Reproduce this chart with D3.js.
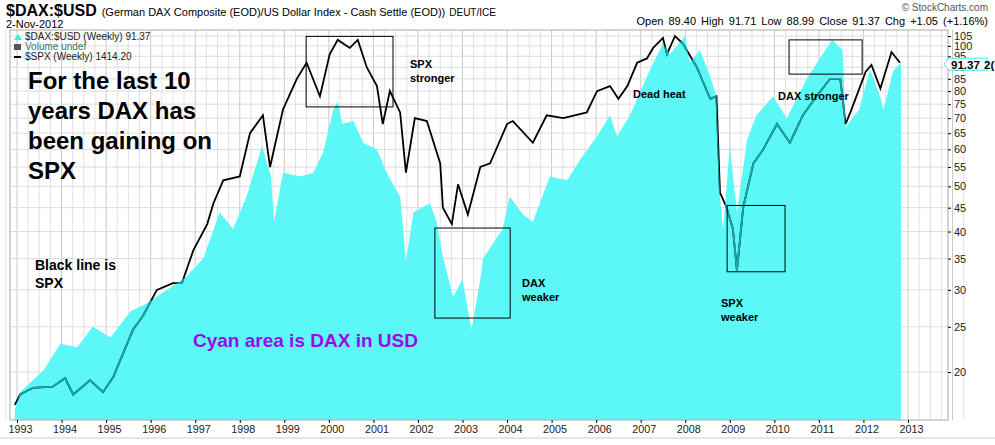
<!DOCTYPE html>
<html>
<head>
<meta charset="utf-8">
<script src="https://cdn.jsdelivr.net/npm/d3@7"></script>
<style>
  body { margin: 0; background: #fff; overflow: hidden; }
  text { font-family: "Liberation Sans", Arial, sans-serif; }
</style>
</head>
<body>
<svg id="chart"></svg>
<script>
// DAX in USD (cyan area), [year, value]
const daxSeries = [
  [1992.95, 16.6], [1993.07, 18.1], [1993.6, 20.2], [1993.97, 23], [1994.35, 22.6], [1994.7, 25],
  [1995.1, 23.7], [1995.55, 27], [1995.9, 28], [1996.37, 30], [1996.8, 32], [1997.18, 35],
  [1997.55, 44], [1997.85, 40.5], [1998.15, 47.5], [1998.5, 61], [1998.7, 52.5], [1998.77, 42],
  [1998.97, 53.5], [1999.35, 52.5], [1999.65, 53.5], [1999.87, 59], [2000.1, 73], [2000.2, 76],
  [2000.3, 68], [2000.55, 69], [2000.77, 62], [2001.08, 60], [2001.3, 53.5], [2001.6, 47.5],
  [2001.73, 34.5], [2001.9, 44], [2002.27, 46], [2002.42, 42], [2002.56, 35.3], [2002.79, 29],
  [2003.0, 31.6], [2003.2, 24.6], [2003.4, 31.6], [2003.46, 35], [2003.9, 40.5], [2004.06, 47.5],
  [2004.36, 43.5], [2004.58, 42], [2004.96, 52.5], [2005.35, 51.5], [2005.64, 57], [2006.02, 64],
  [2006.31, 71], [2006.47, 64], [2006.76, 71], [2007.21, 89], [2007.5, 101], [2007.66, 96],
  [2008.0, 105], [2008.1, 92], [2008.33, 98], [2008.56, 86], [2008.7, 78], [2008.78, 47.5],
  [2008.85, 40.5], [2009.0, 61], [2009.16, 44], [2009.39, 63], [2009.6, 71], [2009.97, 78],
  [2010.28, 70], [2010.73, 85], [2011.02, 94], [2011.3, 103], [2011.53, 98], [2011.6, 67],
  [2011.9, 73], [2012.15, 89], [2012.37, 78], [2012.45, 73], [2012.66, 88], [2012.84, 92]
];

// SPX overlay (black line), rescaled to the chart axis, [year, value]
const spxSeries = [
  [1992.95, 17], [1993.07, 17.9], [1993.36, 18.5], [1993.8, 18.6], [1994.08, 19.4], [1994.26, 17.9],
  [1994.64, 19.2], [1994.93, 18.1], [1995.16, 19.5], [1995.6, 24.6], [1995.83, 26.4], [1996.14, 30],
  [1996.5, 31], [1996.7, 31], [1996.96, 36.5], [1997.27, 41.5], [1997.41, 46], [1997.63, 51.5],
  [1998.0, 52.5], [1998.23, 65], [1998.52, 71], [1998.68, 55], [1998.97, 73], [1999.28, 85],
  [1999.5, 92], [1999.8, 78], [2000.02, 96], [2000.2, 103], [2000.47, 99], [2000.65, 103],
  [2000.85, 90], [2001.08, 82], [2001.21, 68], [2001.37, 80], [2001.6, 72], [2001.73, 53.5],
  [2001.93, 70], [2002.2, 69], [2002.5, 56], [2002.56, 45], [2002.76, 41.5], [2002.9, 50.5],
  [2003.12, 43.5], [2003.4, 55], [2003.62, 56], [2004.0, 68], [2004.13, 69], [2004.58, 62],
  [2004.89, 71], [2005.26, 70], [2005.79, 72], [2006.02, 80], [2006.31, 82], [2006.5, 77],
  [2006.7, 82], [2006.92, 92], [2007.14, 94], [2007.28, 99], [2007.5, 104], [2007.59, 96],
  [2007.77, 105], [2007.95, 101], [2008.26, 90], [2008.56, 77], [2008.7, 78], [2008.78, 48.5],
  [2008.93, 45], [2009.07, 40.5], [2009.16, 33], [2009.3, 45], [2009.53, 56], [2009.75, 60],
  [2010.06, 68], [2010.35, 62], [2010.64, 71], [2010.95, 78], [2011.25, 85], [2011.48, 85],
  [2011.6, 68], [2011.73, 73], [2012.05, 88], [2012.18, 91], [2012.38, 81], [2012.63, 97],
  [2012.82, 92]
];

const yTicks = [20, 25, 30, 35, 40, 45, 50, 55, 60, 65, 70, 75, 80, 85, 90, 95, 100, 105];
const yearTicks = d3.range(1993, 2014);

// annotation boxes: [year0, year1, valueTop, valueBottom]
const boxes = [
  [1999.49, 2001.44, 104.8, 74],
  [2002.38, 2004.07, 40.7, 26.1],
  [2008.94, 2010.24, 45.5, 32.8],
  [2010.33, 2011.97, 103, 87]
];

const W = 995, H = 445;
const plot = { left: 10, right: 948, top: 30, bottom: 420 };

const svg = d3.select("#chart").attr("width", W).attr("height", H);

const x = d3.scaleLinear().domain([1993, 2013]).range([17, 908]);
const y = d3.scaleLog().domain([20, 105]).range([372, 36]);

// grid
const g = svg.append("g");
g.selectAll("line.vg").data(d3.range(1992.75, 2014.5, 0.25)).join("line")
  .attr("x1", d => x(d)).attr("x2", d => x(d))
  .attr("y1", plot.top).attr("y2", plot.bottom)
  .attr("stroke", d => Number.isInteger(d) ? "#c8c8c8" : "#e2e2e2").attr("stroke-width", 1);
g.selectAll("line.hg").data(yTicks).join("line")
  .attr("x1", plot.left).attr("x2", plot.right)
  .attr("y1", d => y(d)).attr("y2", d => y(d))
  .attr("stroke", "#dcdcdc");

// area
const area = d3.area().x(d => x(d[0])).y0(plot.bottom).y1(d => y(d[1]));
svg.append("path").datum(daxSeries).attr("d", area).attr("fill", "#5cf8f8");

// spx line: black above, teal where covered by the area
const line = d3.line().x(d => x(d[0])).y(d => y(d[1]));
svg.append("clipPath").attr("id", "underArea").append("path").datum(daxSeries).attr("d", area);
svg.append("path").datum(spxSeries).attr("d", line)
  .attr("fill", "none").attr("stroke", "#000").attr("stroke-width", 1.8);
svg.append("path").datum(spxSeries).attr("d", line).attr("clip-path", "url(#underArea)")
  .attr("fill", "none").attr("stroke", "#1aa8a8").attr("stroke-width", 1.8);

// frame
svg.append("rect").attr("x", plot.left).attr("y", plot.top)
  .attr("width", plot.right - plot.left).attr("height", plot.bottom - plot.top)
  .attr("fill", "none").attr("stroke", "#aaa");

// axes
const yAxis = svg.append("g").attr("transform", `translate(${plot.right},0)`)
  .call(d3.axisRight(y).tickValues(yTicks).tickFormat(d3.format("d")).tickSize(3));
yAxis.select(".domain").remove();
yAxis.selectAll("text").attr("font-size", 11).attr("fill", "#222");

const xAxis = svg.append("g").attr("transform", `translate(0,${plot.bottom})`)
  .call(d3.axisBottom(x).tickValues(yearTicks).tickFormat(d3.format("d")).tickSize(3));
xAxis.select(".domain").remove();
xAxis.selectAll("text").attr("font-size", 10.5).attr("fill", "#222").attr("dx", 3)
  .attr("textLength", 24).attr("lengthAdjust", "spacingAndGlyphs");

svg.append("line").attr("x1", 0).attr("x2", W).attr("y1", 438).attr("y2", 438).attr("stroke", "#ccc");

// boxes
svg.selectAll("rect.box").data(boxes).join("rect")
  .attr("x", d => x(d[0])).attr("y", d => y(d[2]))
  .attr("width", d => x(d[1]) - x(d[0])).attr("height", d => y(d[3]) - y(d[2]))
  .attr("fill", "none").attr("stroke", "#000").attr("stroke-width", 1);

// last value label
const ly = y(91.37);
svg.append("path")
  .attr("d", `M${plot.right - 4},${ly} l5,-6 h38 v12 h-38 z`)
  .attr("fill", "#fff").attr("stroke", "#3ee");
svg.append("text").attr("x", plot.right + 3).attr("y", ly + 4.5)
  .attr("font-size", 11.5).attr("font-weight", "bold").text("91.37");
svg.append("text").attr("x", plot.right + 36).attr("y", ly + 4.5)
  .attr("font-size", 11.5).attr("font-weight", "bold").text("2(");

// header
const hdr = svg.append("text").attr("x", 6).attr("y", 16);
hdr.append("tspan").attr("font-size", 16).attr("font-weight", "bold").text("$DAX:$USD");
hdr.append("tspan").attr("font-size", 11).attr("dx", 5).text("(German DAX Composite (EOD)/US Dollar Index - Cash Settle (EOD))");
hdr.append("tspan").attr("font-size", 10).attr("dx", 4).text("DEUT/ICE");
svg.append("text").attr("x", 6).attr("y", 28).attr("font-size", 11).text("2-Nov-2012");
svg.append("text").attr("x", 988).attr("y", 11).attr("text-anchor", "end").attr("font-size", 10)
  .attr("fill", "#555").text("© StockCharts.com");
svg.append("text").attr("x", 988).attr("y", 25).attr("text-anchor", "end").attr("font-size", 11)
  .text("Open 89.40  High 91.71  Low 88.99  Close 91.37  Chg +1.05 (+1.16%)")
  .style("word-spacing", "2px");

// legend
const leg = [
  { t: "$DAX:$USD (Weekly) 91.37", c: "#222", y: 40, mono: true },
  { t: "Volume undef", c: "#3a7a6a", y: 50, mono: false },
  { t: "$SPX (Weekly) 1414.20", c: "#222", y: 60, mono: false }
];
svg.append("path").attr("d", "M14,40 l4,-6 l4,6 z").attr("fill", "#3ee");
svg.append("rect").attr("x", 14).attr("y", 44).attr("width", 7).attr("height", 6).attr("fill", "#555");
svg.append("rect").attr("x", 14).attr("y", 56).attr("width", 7).attr("height", 2).attr("fill", "#000");
svg.selectAll("text.leg").data(leg).join("text")
  .attr("x", 25).attr("y", d => d.y).attr("font-size", 10).attr("fill", d => d.c)
  .attr("font-family", d => d.mono ? "DejaVu Sans Mono" : null)
  .text(d => d.t);

// annotations
const big = ["For the last 10", "years DAX has", "been gaining on", "SPX"];
svg.selectAll("text.big").data(big).join("text")
  .attr("x", 28).attr("y", (d, i) => 89 + i * 30).attr("font-size", 24).attr("font-weight", "bold").text(d => d);

const notes = [
  { t: ["Black line is", "SPX"], x: 35, y: 270, s: 14 },
  { t: ["SPX", "stronger"], x: 410, y: 68, s: 11 },
  { t: ["DAX", "weaker"], x: 522, y: 287, s: 11 },
  { t: ["Dead heat"], x: 633, y: 98, s: 11 },
  { t: ["DAX stronger"], x: 778, y: 100, s: 11 },
  { t: ["SPX", "weaker"], x: 721, y: 307, s: 11 }
];
notes.forEach(n => {
  svg.append("text").attr("x", n.x).attr("y", n.y).attr("font-size", n.s).attr("font-weight", "bold")
    .selectAll("tspan").data(n.t).join("tspan")
    .attr("x", n.x).attr("dy", (d, i) => i ? n.s * 1.3 : 0).text(d => d);
});
svg.append("text").attr("x", 193).attr("y", 347).attr("font-size", 19).attr("font-weight", "bold")
  .attr("fill", "#9a0af0").text("Cyan area is DAX in USD");
</script>
</body>
</html>
